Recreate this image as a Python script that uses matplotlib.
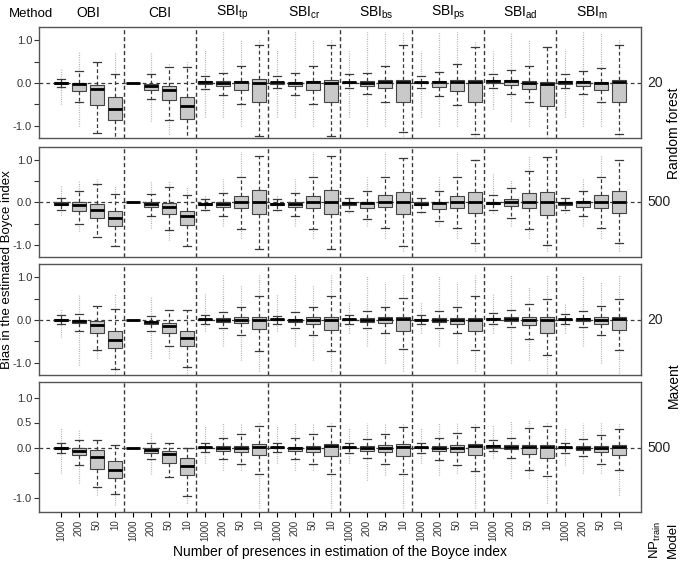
import matplotlib
matplotlib.use("Agg")
import matplotlib.pyplot as plt
import numpy as np

plt.rcParams['font.family'] = ['Liberation Sans', 'DejaVu Sans']
plt.rcParams['mathtext.fontset'] = 'custom'
plt.rcParams['mathtext.rm'] = 'Liberation Sans'
plt.rcParams['mathtext.it'] = 'Liberation Sans'

methods = ['OBI', 'CBI', r'SBI$_{\mathrm{tp}}$', r'SBI$_{\mathrm{cr}}$', r'SBI$_{\mathrm{bs}}$',
           r'SBI$_{\mathrm{ps}}$', r'SBI$_{\mathrm{ad}}$', r'SBI$_{\mathrm{m}}$']
n_presences = ['1000', '200', '50', '10']
np_train = ['20', '500', '20', '500']
models = ['Random forest', 'Maxent']

# --- Random forest, NP_train = 20 ---  (4 values per method: 1000, 200, 50, 10)
rf20_q1 = [-0.02, -0.18, -0.52, -0.87,  0.0, -0.16, -0.40, -0.84,
           -0.02, -0.08, -0.16, -0.44,  -0.02, -0.08, -0.16, -0.45,
           -0.01, -0.08, -0.13, -0.45,  -0.01, -0.10, -0.18, -0.45,
           0.0, -0.05, -0.15, -0.55,  -0.02, -0.08, -0.16, -0.45]
rf20_med = [0.0, -0.02, -0.15, -0.60,  0.0, -0.07, -0.17, -0.53,
            0.02, 0.0, 0.03, 0.0,  0.01, 0.0, 0.02, 0.0,
            0.01, 0.0, 0.02, 0.03,  0.01, 0.02, 0.02, 0.02,
            0.04, 0.04, 0.0, -0.03,  0.02, 0.01, -0.01, 0.02]
rf20_q3 = [0.02, 0.0, -0.05, -0.33,  0.0, -0.03, -0.08, -0.32,
           0.04, 0.04, 0.05, 0.10,  0.03, 0.03, 0.05, 0.07,
           0.03, 0.04, 0.06, 0.08,  0.03, 0.04, 0.06, 0.07,
           0.07, 0.08, 0.05, 0.02,  0.04, 0.05, 0.03, 0.07]
rf20_lo = [-0.10, -0.45, -1.17, -1.35,  0.0, -0.37, -0.88, -1.35,
           -0.14, -0.28, -0.50, -1.24,  -0.13, -0.28, -0.50, -1.24,
           -0.12, -0.27, -0.45, -1.15,  -0.13, -0.30, -0.52, -1.20,
           -0.12, -0.25, -0.45, -1.35,  -0.12, -0.27, -0.45, -1.20]
rf20_hi = [0.10, 0.27, 0.50, 0.22,  0.0, 0.20, 0.37, 0.37,
           0.17, 0.24, 0.40, 0.90,  0.16, 0.24, 0.40, 0.90,
           0.22, 0.24, 0.40, 0.88,  0.16, 0.25, 0.45, 0.85,
           0.22, 0.30, 0.40, 0.85,  0.20, 0.27, 0.35, 0.88]
rf20_flo = [-0.50, -1.00, -1.17, -1.35,  0.0, -0.90, -1.20, -1.35,
            -0.80, -0.80, -1.00, -1.28,  -0.80, -0.80, -1.00, -1.28,
            -0.80, -1.00, -1.00, -1.25,  -0.80, -1.00, -1.00, -1.25,
            -0.60, -0.90, -1.00, -1.35,  -0.80, -1.00, -1.00, -1.30]
rf20_fhi = [0.35, 0.75, 0.50, 0.70,  0.0, 0.72, 0.45, 0.50,
            0.80, 1.20, 1.00, 1.00,  0.80, 1.20, 1.00, 1.00,
            0.75, 1.20, 1.20, 1.20,  0.75, 1.20, 1.20, 0.95,
            0.75, 1.20, 1.00, 0.90,  0.80, 1.20, 1.20, 1.00]

# --- Random forest, NP_train = 500 ---
rf500_q1 = [-0.07, -0.20, -0.37, -0.56,  0.0, -0.10, -0.27, -0.53,
            -0.07, -0.12, -0.13, -0.27,  -0.06, -0.12, -0.13, -0.27,
            -0.06, -0.14, -0.12, -0.28,  -0.07, -0.16, -0.14, -0.26,
            -0.03, -0.09, -0.13, -0.30,  -0.06, -0.12, -0.13, -0.25]
rf500_med = [-0.03, -0.07, -0.17, -0.38,  0.0, -0.03, -0.12, -0.33,
             -0.04, -0.04, 0.0, 0.01,  -0.03, -0.03, 0.0, 0.01,
             -0.02, -0.01, 0.01, 0.01,  -0.03, -0.01, 0.01, 0.02,
             -0.01, 0.02, 0.0, 0.0,  -0.02, 0.0, 0.0, 0.01]
rf500_q3 = [0.0, 0.0, -0.03, -0.20,  0.0, 0.02, -0.01, -0.20,
            -0.01, 0.01, 0.16, 0.29,  -0.01, 0.02, 0.16, 0.29,
            0.01, 0.01, 0.18, 0.25,  0.0, 0.01, 0.16, 0.25,
            0.01, 0.09, 0.22, 0.25,  0.01, 0.04, 0.18, 0.27]
rf500_lo = [-0.18, -0.50, -0.82, -1.03,  0.0, -0.33, -0.65, -1.02,
            -0.17, -0.33, -0.63, -1.10,  -0.17, -0.33, -0.63, -1.10,
            -0.20, -0.40, -0.60, -1.02,  -0.22, -0.43, -0.60, -0.97,
            -0.18, -0.37, -0.62, -1.00,  -0.18, -0.33, -0.60, -0.97]
rf500_hi = [0.10, 0.28, 0.43, 0.20,  0.0, 0.20, 0.36, 0.18,
            0.07, 0.23, 0.60, 1.10,  0.07, 0.23, 0.60, 1.10,
            0.10, 0.28, 0.60, 1.05,  0.10, 0.28, 0.60, 1.00,
            0.18, 0.33, 0.74, 1.07,  0.10, 0.27, 0.60, 1.00]
rf500_flo = [-0.30, -0.68, -0.82, -1.03,  0.0, -0.60, -0.88, -1.02,
             -0.20, -0.55, -0.85, -1.10,  -0.20, -0.55, -0.85, -1.10,
             -0.25, -0.55, -0.85, -1.15,  -0.25, -0.55, -0.85, -1.15,
             -0.25, -0.55, -0.85, -1.15,  -0.25, -0.55, -0.85, -1.15]
rf500_fhi = [0.40, 0.50, 0.55, 0.38,  0.0, 0.50, 0.50, 0.38,
             0.15, 0.55, 1.20, 1.10,  0.15, 0.55, 1.20, 1.10,
             0.15, 0.60, 1.20, 1.05,  0.15, 0.60, 1.20, 1.05,
             0.70, 0.55, 1.10, 1.07,  0.15, 0.55, 1.10, 1.00]

# --- Maxent, NP_train = 20 ---
mx20_q1 = [-0.02, -0.08, -0.30, -0.66,  0.0, -0.09, -0.30, -0.61,
           -0.01, -0.04, -0.08, -0.22,  -0.01, -0.04, -0.09, -0.23,
           -0.01, -0.04, -0.08, -0.25,  -0.01, -0.04, -0.10, -0.25,
           0.01, -0.02, -0.12, -0.30,  -0.01, -0.03, -0.09, -0.24]
mx20_med = [0.0, -0.03, -0.13, -0.46,  0.0, -0.04, -0.15, -0.43,
            0.01, 0.0, 0.0, 0.0,  0.01, 0.0, 0.0, -0.01,
            0.01, 0.0, 0.01, 0.02,  0.0, 0.0, 0.0, 0.0,
            0.03, 0.03, -0.01, -0.01,  0.01, 0.01, 0.0, 0.02]
mx20_q3 = [0.01, 0.0, -0.03, -0.27,  0.0, -0.02, -0.07, -0.26,
           0.02, 0.04, 0.06, 0.07,  0.02, 0.03, 0.06, 0.06,
           0.02, 0.04, 0.07, 0.06,  0.02, 0.04, 0.05, 0.05,
           0.05, 0.07, 0.07, 0.06,  0.02, 0.04, 0.06, 0.06]
mx20_lo = [-0.10, -0.25, -0.71, -1.14,  0.0, -0.25, -0.60, -1.11,
           -0.10, -0.18, -0.35, -0.72,  -0.10, -0.18, -0.35, -0.72,
           -0.10, -0.19, -0.30, -0.68,  -0.10, -0.20, -0.30, -0.70,
           -0.10, -0.16, -0.45, -0.83,  -0.10, -0.17, -0.35, -0.70]
mx20_hi = [0.12, 0.13, 0.32, 0.26,  0.0, 0.10, 0.23, 0.23,
           0.12, 0.18, 0.31, 0.55,  0.10, 0.18, 0.31, 0.56,
           0.12, 0.20, 0.31, 0.52,  0.12, 0.20, 0.30, 0.56,
           0.17, 0.23, 0.37, 0.50,  0.15, 0.22, 0.33, 0.50]
mx20_flo = [-0.40, -1.05, -0.90, -1.28,  0.0, -0.90, -0.90, -1.28,
            -0.25, -0.60, -0.95, -1.20,  -0.25, -0.60, -0.95, -1.20,
            -0.30, -0.60, -1.00, -1.20,  -0.30, -0.60, -1.00, -1.20,
            -0.30, -1.00, -0.95, -1.25,  -0.30, -0.60, -1.00, -1.25]
mx20_fhi = [0.25, 0.60, 0.32, 0.60,  0.0, 0.55, 0.23, 0.23,
            0.60, 1.05, 0.80, 1.05,  0.60, 1.05, 0.80, 1.05,
            0.40, 1.05, 0.90, 1.05,  0.40, 1.05, 0.90, 1.05,
            0.60, 1.05, 0.80, 1.05,  0.40, 1.05, 0.90, 1.05]

# --- Maxent, NP_train = 500 ---
mx500_q1 = [-0.03, -0.15, -0.42, -0.60,  0.0, -0.10, -0.30, -0.55,
            -0.01, -0.06, -0.08, -0.15,  -0.01, -0.06, -0.09, -0.16,
            -0.01, -0.06, -0.08, -0.16,  -0.01, -0.07, -0.08, -0.15,
            0.0, -0.03, -0.12, -0.20,  -0.01, -0.05, -0.09, -0.14]
mx500_med = [0.0, -0.06, -0.18, -0.44,  0.0, -0.04, -0.13, -0.36,
             0.01, -0.01, 0.0, 0.02,  0.01, -0.01, 0.0, 0.03,
             0.01, -0.01, 0.0, 0.02,  0.01, -0.01, 0.0, 0.03,
             0.03, 0.02, 0.02, 0.02,  0.01, 0.0, 0.0, 0.02]
mx500_q3 = [0.01, 0.0, -0.05, -0.26,  0.0, -0.01, -0.07, -0.20,
            0.02, 0.03, 0.04, 0.08,  0.02, 0.02, 0.04, 0.07,
            0.02, 0.03, 0.05, 0.08,  0.02, 0.03, 0.05, 0.08,
            0.05, 0.05, 0.05, 0.05,  0.02, 0.03, 0.04, 0.06]
mx500_lo = [-0.10, -0.35, -0.78, -0.93,  0.0, -0.22, -0.58, -0.96,
            -0.08, -0.23, -0.33, -0.52,  -0.08, -0.23, -0.33, -0.52,
            -0.10, -0.20, -0.33, -0.52,  -0.10, -0.25, -0.35, -0.47,
            -0.07, -0.20, -0.45, -0.57,  -0.10, -0.17, -0.33, -0.45]
mx500_hi = [0.10, 0.15, 0.15, 0.06,  0.0, 0.10, 0.10, 0.0,
            0.10, 0.20, 0.27, 0.43,  0.10, 0.20, 0.27, 0.43,
            0.10, 0.18, 0.27, 0.42,  0.10, 0.20, 0.30, 0.42,
            0.15, 0.20, 0.40, 0.43,  0.10, 0.18, 0.25, 0.38]
mx500_flo = [-0.50, -0.70, -0.95, -1.15,  0.0, -0.52, -0.58, -1.10,
             -0.30, -0.45, -0.45, -1.20,  -0.30, -0.45, -0.45, -1.20,
             -0.30, -0.65, -0.55, -1.20,  -0.30, -0.55, -0.50, -1.20,
             -0.20, -0.60, -0.60, -1.10,  -0.35, -0.50, -0.50, -0.95]
mx500_fhi = [0.40, 0.35, 0.15, 0.06,  0.0, 0.30, 0.10, 0.0,
             0.45, 0.50, 0.50, 0.50,  0.45, 0.50, 0.50, 0.50,
             0.40, 0.50, 0.50, 0.50,  0.40, 0.50, 0.50, 0.50,
             0.45, 0.55, 0.55, 0.50,  0.40, 0.50, 0.50, 0.50]

panels = [
    (rf20_q1, rf20_med, rf20_q3, rf20_lo, rf20_hi, rf20_flo, rf20_fhi),
    (rf500_q1, rf500_med, rf500_q3, rf500_lo, rf500_hi, rf500_flo, rf500_fhi),
    (mx20_q1, mx20_med, mx20_q3, mx20_lo, mx20_hi, mx20_flo, mx20_fhi),
    (mx500_q1, mx500_med, mx500_q3, mx500_lo, mx500_hi, mx500_flo, mx500_fhi),
]

W, H = 680, 568
fig = plt.figure(figsize=(W / 100, H / 100), dpi=100)
# panel rectangles in pixels: (top, bottom)
rects = [(27, 138), (147, 257), (264, 375), (382, 512)]
left_px, right_px = 39, 641

dark = '#3a3a3a'
positions = np.arange(1, 33)
axes = []
for k, (top, bot) in enumerate(rects):
    ax = fig.add_axes([left_px / W, 1 - bot / H, (right_px - left_px) / W, (bot - top) / H])
    q1, med, q3, lo, hi, flo, fhi = panels[k]
    stats = []
    for i in range(32):
        stats.append(dict(q1=q1[i], med=med[i], q3=q3[i], whislo=lo[i], whishi=hi[i], fliers=[]))
    # outliers: dense columns of small grey dots
    ax.vlines(positions, flo, lo, colors='#9a9a9a', linestyles=(0, (0.6, 1.2)), lw=0.9, zorder=1)
    ax.vlines(positions, hi, fhi, colors='#9a9a9a', linestyles=(0, (0.6, 1.2)), lw=0.9, zorder=1)
    ax.axhline(0, color=dark, ls=(0, (3, 2.5)), lw=0.9, zorder=1.5)
    ax.bxp(stats, positions=positions, widths=0.8, patch_artist=True, showfliers=False,
           boxprops=dict(facecolor='#c9c9c9', edgecolor='#444444', lw=0.8),
           medianprops=dict(color='black', lw=2.0),
           whiskerprops=dict(color=dark, ls=(0, (3, 2)), lw=0.9),
           capprops=dict(color=dark, lw=0.9), capwidths=0.45, zorder=2)
    for b in range(1, 8):
        ax.axvline(4 * b + 0.5, color=dark, ls=(0, (3, 2)), lw=1.0, zorder=1.5)
    ax.set_xlim(-0.22, 33.22)
    ax.set_ylim(-1.29, 1.31)
    ax.set_yticks([-1.0, -0.5, 0.0, 0.5, 1.0])
    if k == 3:
        ax.set_yticklabels(['-1.0', '', '0.0', '0.5', '1.0'])
    else:
        ax.set_yticklabels(['-1.0', '', '0.0', '', '1.0'])
    ax.tick_params(axis='y', labelsize=8, colors='#333333', length=3.5, width=0.8, pad=1.5)
    for s in ax.spines.values():
        s.set_color('#555555')
        s.set_linewidth(1.0)
    if k < 3:
        ax.set_xticks([])
    else:
        ax.set_xticks(positions)
        ax.set_xticklabels(n_presences * 8, rotation=90, fontsize=7, color='#333333')
        ax.tick_params(axis='x', length=3.5, width=0.8, pad=2)
    ax.text(1.01, 0.0, np_train[k], transform=ax.get_yaxis_transform(), ha='left', va='center',
            fontsize=10, color='#222222')
    axes.append(ax)

# method header
top_ax = axes[0]
for j, m in enumerate(methods):
    top_ax.text(4 * j + 2.5, 1.0 + 14 / 111, m, ha='center', va='center', fontsize=10,
                transform=top_ax.get_xaxis_transform(), clip_on=False)
fig.text(31 / W, 1 - 14 / H, 'Method', ha='center', va='center', fontsize=9.5)

fig.text(674 / W, 1 - 133 / H, models[0], rotation=90, ha='center', va='center', fontsize=10)
fig.text(674 / W, 1 - 385 / H, models[1], rotation=90, ha='center', va='center', fontsize=10)
fig.text(655 / W, 1 - 540 / H, r'NP$_{\mathrm{train}}$', rotation=90, ha='center', va='center', fontsize=9.5)
fig.text(673 / W, 1 - 540 / H, 'Model', rotation=90, ha='center', va='center', fontsize=9.5)

fig.text(7 / W, 1 - 270 / H, 'Bias in the estimated Boyce index', rotation=90,
         ha='center', va='center', fontsize=9.5)
fig.text(340 / W, 1 - 552 / H, 'Number of presences in estimation of the Boyce index',
         ha='center', va='center', fontsize=10)

fig.savefig('out.png', dpi=100)
